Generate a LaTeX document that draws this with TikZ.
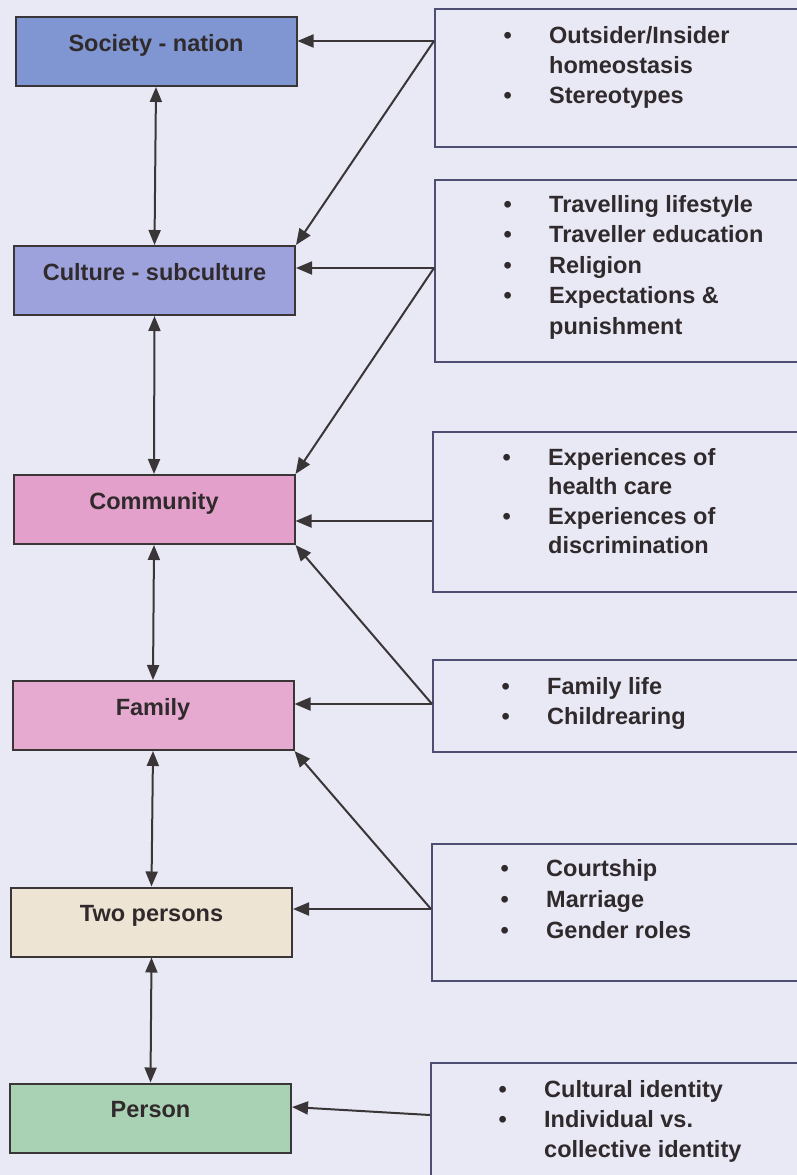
\documentclass[tikz,border=0pt]{standalone}
\usepackage{fontspec}
\setmainfont{Liberation Sans}
\usetikzlibrary{arrows.meta}
\definecolor{bg}{HTML}{E9E8F5}
\definecolor{txt}{HTML}{302A2C}
\definecolor{lborder}{HTML}{3A3638}
\definecolor{rborder}{HTML}{4E4E72}
\definecolor{cSoc}{HTML}{7F96D2}
\definecolor{cCul}{HTML}{9EA2DC}
\definecolor{cCom}{HTML}{E3A0CB}
\definecolor{cFam}{HTML}{E6A9D0}
\definecolor{cTwo}{HTML}{EEE4D4}
\definecolor{cPer}{HTML}{A9D1B4}
\newcommand\bul{\makebox[45.5pt][l]{\textbullet}}
\tikzset{
  lbox/.style={draw=lborder, line width=2pt, minimum width=281pt, inner xsep=0pt, inner ysep=0pt,
    text height=34pt, text depth=35pt, font=\fontsize{23.5}{28}\selectfont\bfseries, text=txt},
  rbox/.style={draw=rborder, line width=1.8pt, anchor=north west, inner sep=0pt},
  rtext/.style={anchor=base west, inner sep=0pt, text=txt, font=\fontsize{23.5}{30}\selectfont\bfseries},
  arr/.style={draw=lborder, line width=2pt, -{Triangle[length=16pt,width=13pt]}},
  darr/.style={draw=lborder, line width=2pt, {Triangle[length=15pt,width=12pt]}-{Triangle[length=15pt,width=12pt]}}
}
\begin{document}
\begin{tikzpicture}[x=1pt,y=-1pt]
\useasboundingbox (0,0) rectangle (797,1175);
\fill[bg] (0,0) rectangle (797,1175);
\clip (0,0) rectangle (797,1175);

% left boxes
\node[lbox, fill=cSoc] (soc) at (156,51.5) {Society - nation};
\node[lbox, fill=cCul] (cul) at (154.5,280.5) {Culture - subculture};
\node[lbox, fill=cCom] (com) at (154,509.5) {Community};
\node[lbox, fill=cFam] (fam) at (153,715.5) {Family};
\node[lbox, fill=cTwo] (two) at (151.5,922) {Two persons};
\node[lbox, fill=cPer] (per) at (150.5,1118) {Person};

% right boxes
\node[rbox, minimum width=400pt, minimum height=138pt] (b1) at (434,8) {};
\node[rbox, minimum width=400pt, minimum height=182pt] (b2) at (434,179) {};
\node[rbox, minimum width=400pt, minimum height=160pt] (b3) at (432,431) {};
\node[rbox, minimum width=400pt, minimum height=92pt] (b4) at (432,659) {};
\node[rbox, minimum width=400pt, minimum height=137pt] (b5) at (431,843) {};
\node[rbox, minimum width=400pt, minimum height=150pt] (b6) at (430,1062) {};

% right texts
\node[rtext] (t1) at (503.5,43) {\begin{tabular}[t]{@{}l@{}l@{}}\bul & Outsider/Insider\\ & homeostasis\\ \bul & Stereotypes\end{tabular}};
\node[rtext, font=\fontsize{23.5}{30.5}\selectfont\bfseries] (t2) at (503.5,212) {\begin{tabular}[t]{@{}l@{}l@{}}\bul & Travelling lifestyle\\ \bul & Traveller education\\ \bul & Religion\\ \bul & Expectations \&\\ & punishment\end{tabular}};
\node[rtext, font=\fontsize{23.5}{29.5}\selectfont\bfseries] (t3) at (502.5,465) {\begin{tabular}[t]{@{}l@{}l@{}}\bul & Experiences of\\ & health care\\ \bul & Experiences of\\ & discrimination\end{tabular}};
\node[rtext] (t4) at (501.5,694) {\begin{tabular}[t]{@{}l@{}l@{}}\bul & Family life\\ \bul & Childrearing\end{tabular}};
\node[rtext, font=\fontsize{23.5}{31}\selectfont\bfseries] (t5) at (500.5,876) {\begin{tabular}[t]{@{}l@{}l@{}}\bul & Courtship\\ \bul & Marriage\\ \bul & Gender roles\end{tabular}};
\node[rtext] (t6) at (498.5,1097) {\begin{tabular}[t]{@{}l@{}l@{}}\bul & Cultural identity\\ \bul & Individual vs.\\ & collective identity\end{tabular}};

% connector start points on the right boxes
\coordinate (p1) at (434,41);
\coordinate (p2) at (434,268);
\coordinate (p3) at (432,521);
\coordinate (p4) at (432,704);
\coordinate (p5) at (431,909);
\coordinate (p6) at (430,1115);

\draw[arr] (p1) -- (soc.east |- p1);
\draw[arr] (p1) -- (cul.north east);
\draw[arr] (p2) -- (cul.east |- p2);
\draw[arr] (p2) -- (com.north east);
\draw[arr] (p3) -- (com.east |- p3);
\draw[arr] (p4) -- (fam.east |- p4);
\draw[arr] (p4) -- (com.south east);
\draw[arr] (p5) -- (two.east |- p5);
\draw[arr] (p5) -- (fam.south east);
\draw[arr] (p6) -- ([yshift=11pt]per.east);

% vertical double arrows
\draw[darr] (soc.south) -- (cul.north);
\draw[darr] (cul.south) -- (com.north);
\draw[darr] (com.south) -- (fam.north);
\draw[darr] (fam.south) -- (two.north);
\draw[darr] (two.south) -- (per.north);
\end{tikzpicture}
\end{document}
